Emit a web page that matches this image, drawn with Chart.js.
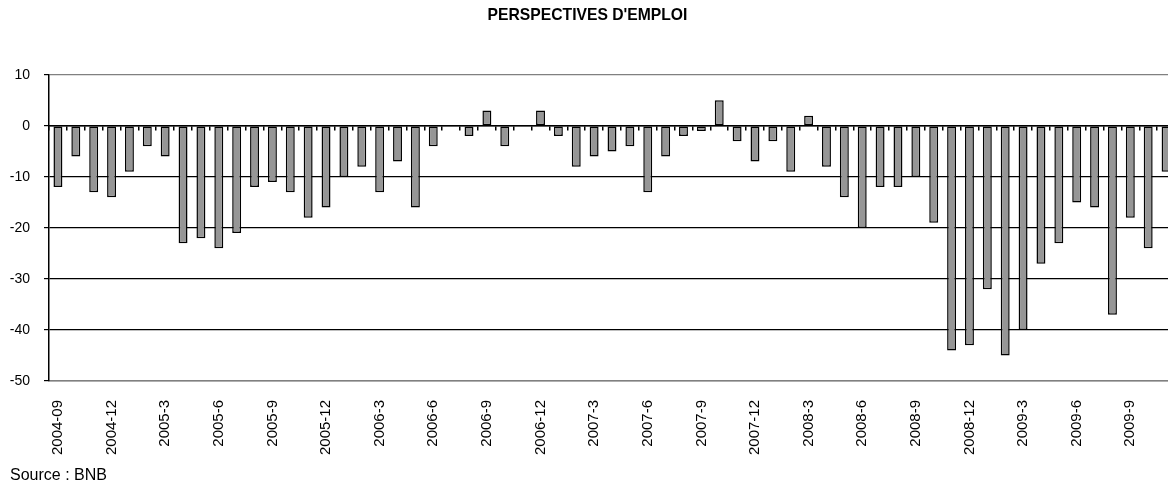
<!DOCTYPE html>
<html>
<head>
<meta charset="utf-8">
<script src="https://cdn.jsdelivr.net/npm/chart.js@4/dist/chart.umd.min.js"></script>
<style>
    html, body { margin: 0; padding: 0; background: #fff; overflow: hidden; }
    #wrap { width: 1176px; height: 486px; position: relative; }
</style>
</head>
<body>
<div id="wrap"><canvas id="chart"></canvas></div>
<script>
const months = [
    '2004-09', '2004-10', '2004-11', '2004-12',
    '2005-1', '2005-2', '2005-3', '2005-4', '2005-5', '2005-6', '2005-7', '2005-8', '2005-9', '2005-10', '2005-11', '2005-12',
    '2006-1', '2006-2', '2006-3', '2006-4', '2006-5', '2006-6', '2006-7', '2006-8', '2006-9', '2006-10', '2006-11', '2006-12',
    '2007-1', '2007-2', '2007-3', '2007-4', '2007-5', '2007-6', '2007-7', '2007-8', '2007-9', '2007-10', '2007-11', '2007-12',
    '2008-1', '2008-2', '2008-3', '2008-4', '2008-5', '2008-6', '2008-7', '2008-8', '2008-9', '2008-10', '2008-11', '2008-12',
    '2009-1', '2009-2', '2009-3', '2009-4', '2009-5', '2009-6', '2009-7', '2009-8', '2009-9', '2009-10', '2009-11'
];

// solde des réponses
const emploi = [
    -12, -6, -13, -14,
    -9, -4, -6, -23, -22, -24, -21, -12, -11, -13, -18, -16,
    -10, -8, -13, -7, -16, -4, null, -2, 3, -4, null, 3,
    -2, -8, -6, -5, -4, -13, -6, -2, -1, 5, -3, -7,
    -3, -9, 2, -8, -14, -20, -12, -12, -10, -19, -44, -43,
    -32, -45, -40, -27, -23, -15, -16, -37, -18, -24, -9
];

const yTicks = { min: -50, max: 10, step: 10 };
const labelEvery = 3;

const FONT = "'Liberation Sans', Arial, sans-serif";

// "Source : BNB" under the axis labels
const sourceNote = {
    id: 'sourceNote',
    afterDraw(chart) {
        const ctx = chart.ctx;
        ctx.save();
        ctx.font = '16px ' + FONT;
        ctx.fillStyle = '#000';
        ctx.textBaseline = 'middle';
        ctx.fillText('Source : BNB', 10, 476);
        ctx.restore();
    }
};

// no extra side padding from the rotated labels, the plot runs off the right edge
function noSidePadding(scale) {
    scale.paddingLeft = 0;
    scale.paddingRight = 0;
}

const ctx = document.getElementById('chart').getContext('2d');
new Chart(ctx, {
    type: 'bar',
    data: {
        labels: months,
        datasets: [{
            label: "Perspectives d'emploi",
            data: emploi,
            backgroundColor: '#969696',
            borderColor: '#000',
            borderWidth: 1.5,
            borderSkipped: false,
            barPercentage: 0.5,
            categoryPercentage: 1
        }]
    },
    plugins: [sourceNote],
    options: {
        responsive: true,
        maintainAspectRatio: false,
        animation: false,
        layout: { padding: { left: 0, right: 1, top: 0, bottom: 18 } },
        plugins: {
            legend: { display: false },
            tooltip: { enabled: false },
            title: {
                display: true,
                text: "PERSPECTIVES D'EMPLOI",
                color: '#000',
                font: { family: FONT, size: 15.7, weight: 'bold' },
                padding: { top: 6, bottom: 50 }
            }
        },
        scales: {
            x: {
                type: 'category',
                position: 'bottom',
                offset: true,
                grid: { display: false, drawTicks: false, offset: true },
                border: { display: true, color: '#808080', width: 1.5 },
                ticks: {
                    autoSkip: false,
                    minRotation: 90,
                    maxRotation: 90,
                    padding: 19,
                    color: '#000',
                    font: { family: FONT, size: 15 },
                    callback: (v, i) => (i % labelEvery === 0 ? months[i] : '')
                },
                afterFit: (scale) => {
                    scale.height = 87;
                    noSidePadding(scale);
                }
            },
            xz: {
                type: 'category',
                axis: 'x',
                position: { y: 0 },
                offset: true,
                grid: { drawOnChartArea: false, drawTicks: true, tickLength: 4, offset: true, color: '#000', lineWidth: 1.5 },
                border: { display: true, color: '#000', width: 1.5 },
                ticks: { display: false },
                afterFit: noSidePadding
            },
            y: {
                min: yTicks.min,
                max: yTicks.max,
                grid: {
                    color: (c) => (c.tick && (c.tick.value === yTicks.max || c.tick.value === yTicks.min) ? '#808080' : '#000'),
                    tickColor: '#000',
                    tickLength: 5,
                    lineWidth: 1.2
                },
                border: { display: true, color: '#000', width: 1.5 },
                ticks: {
                    stepSize: yTicks.step,
                    padding: 14,
                    color: '#000',
                    font: { family: FONT, size: 14 }
                },
                afterFit: (scale) => { scale.width = 49; }
            }
        }
    }
});
</script>
</body>
</html>
